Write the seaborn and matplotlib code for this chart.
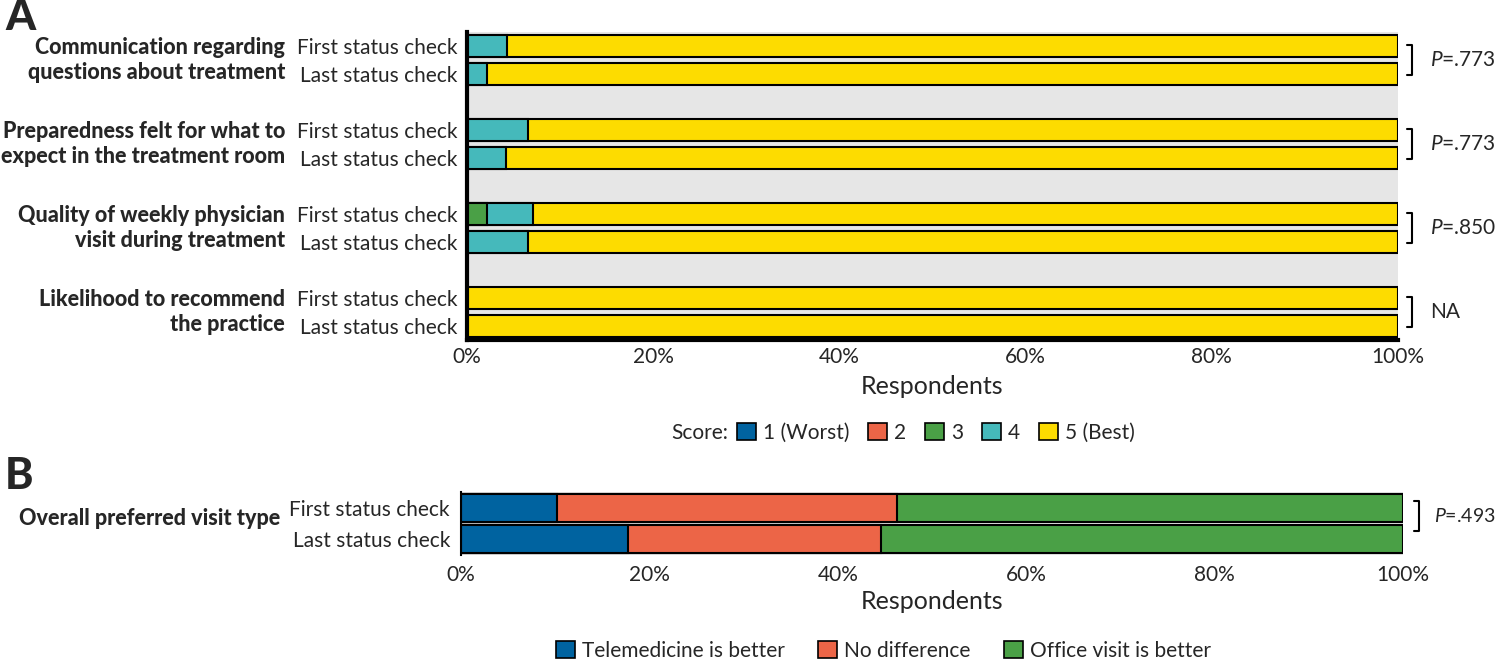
import numpy as np
import pandas as pd
import seaborn as sns
import matplotlib.pyplot as plt
from matplotlib.patches import Patch
from matplotlib.transforms import blended_transform_factory as btf
from matplotlib.ticker import FuncFormatter

# ---------------- data ----------------
questions = ["Communication regarding\nquestions about treatment",
             "Preparedness felt for what to\nexpect in the treatment room",
             "Quality of weekly physician\nvisit during treatment",
             "Likelihood to recommend\nthe practice"]
checks = ["First status check", "Last status check"]
p_values_a = ["$P$=.773", "$P$=.773", "$P$=.850", "NA"]

score_labels = ["1 (Worst)", "2", "3", "4", "5 (Best)"]
score_colors = ["#0063a0", "#ec6547", "#4aa046", "#45b9bb", "#fddc00"]
# rows: Q1 first, Q1 last, Q2 first, Q2 last, Q3 first, Q3 last, Q4 first, Q4 last
score1 = [0, 0, 0, 0, 0, 0, 0, 0]
score2 = [0, 0, 0, 0, 0, 0, 0, 0]
score3 = [0, 0, 0, 0, 2.2, 0, 0, 0]
score4 = [4.3, 2.1, 6.5, 4.2, 4.9, 6.6, 0, 0]
score5 = [95.7, 97.9, 93.5, 95.8, 92.9, 93.4, 100, 100]

question_b = "Overall preferred visit type"
visit_labels = ["Telemedicine is better", "No difference", "Office visit is better"]
visit_colors = ["#0063a0", "#ec6547", "#4aa046"]
tele = [10.2, 17.7]
nodiff = [36.1, 26.9]
office = [53.7, 55.4]
p_value_b = "$P$=.493"

xticks = [0, 20, 40, 60, 80, 100]

# ---------------- style ----------------
sns.set_style("white")
plt.rcParams['font.family'] = ['Lato', 'DejaVu Sans']
plt.rcParams['mathtext.fontset'] = 'custom'
plt.rcParams['mathtext.it'] = 'Lato:italic'
plt.rcParams['mathtext.rm'] = 'Lato'
FS = 15
FSB = 15.5
GREY = "#e6e6e6"

fig = plt.figure(figsize=(15, 6.63), dpi=100)
W, H = 1500, 663

def ax_rect(x0, y0, x1, y1):
    return [x0 / W, 1 - y1 / H, (x1 - x0) / W, (y1 - y0) / H]

# ---------------- panel A ----------------
axA = fig.add_axes(ax_rect(467, 32, 1398, 340))
axA.set_facecolor(GREY)

row_ids, order = [], []
for qi in range(len(questions)):
    for ci in range(len(checks)):
        row_ids.append(f"q{qi}_{ci}")
        order.append(f"q{qi}_{ci}")
    if qi < len(questions) - 1:
        order.append(f"gap{qi}")

dfA = pd.DataFrame({"row": row_ids, "s1": score1, "s2": score2, "s3": score3,
                    "s4": score4, "s5": score5})
scols = ["s1", "s2", "s3", "s4", "s5"]
for k in range(4, -1, -1):
    dfA["cum"] = dfA[scols[:k + 1]].sum(axis=1)
    sns.barplot(data=dfA, x="cum", y="row", order=order, orient="h",
                color=score_colors[k], saturation=1, edgecolor="black",
                linewidth=1.5, width=0.82, errorbar=None, ax=axA)

ypos = [order.index(r) for r in row_ids]
axA.set_yticks(ypos)
axA.set_yticklabels([checks[i % 2] for i in range(len(row_ids))], fontsize=FS)
axA.set_ylabel("")
axA.set_xlim(0, 100)
axA.set_ylim(len(order) - 0.5, -0.5)
axA.set_xticks(xticks)
axA.xaxis.set_major_formatter(FuncFormatter(lambda v, p: f"{v:.0f}%"))
axA.tick_params(axis="both", length=0, labelsize=FS)
axA.tick_params(axis="y", pad=7)
axA.tick_params(axis="x", pad=5)
axA.set_xlabel("Respondents", fontsize=18, labelpad=6)
for s in ["top", "right"]:
    axA.spines[s].set_visible(False)
for s in ["left", "bottom"]:
    axA.spines[s].set_linewidth(3)
    axA.spines[s].set_color("black")

trA_lab = btf(fig.transFigure, axA.transData)
trA_br = btf(axA.transAxes, axA.transData)
for qi, q in enumerate(questions):
    y0 = order.index(f"q{qi}_0")
    y1 = order.index(f"q{qi}_1")
    axA.text(285 / W, (y0 + y1) / 2, q, transform=trA_lab, ha="right", va="center",
             fontsize=FSB, fontweight="black", linespacing=1.22)
    xb0, xb1 = (1407 - 467) / 931, (1412 - 467) / 931
    axA.plot([xb0, xb1, xb1, xb0], [y0 - 0.05, y0 - 0.05, y1 + 0.05, y1 + 0.05],
             transform=trA_br, color="black", lw=1.5, clip_on=False)
    axA.text((1430 - 467) / 931, (y0 + y1) / 2, p_values_a[qi], transform=trA_br,
             ha="left", va="center", fontsize=FS)

fig.text(5 / W, 1 - 30 / H, "A", fontsize=31, fontweight="black", ha="left", va="baseline")

fig.text(671 / W, 1 - 433 / H, "Score:", fontsize=FS, ha="left", va="center")
hA = [Patch(facecolor=c, edgecolor="black", lw=1.2) for c in score_colors]
fig.legend(handles=hA, labels=score_labels, ncol=5, loc="center left",
           bbox_to_anchor=(737 / W, 1 - 433 / H), frameon=False, fontsize=FS,
           handlelength=0.9, handleheight=0.9, handletextpad=0.35,
           columnspacing=0.9, borderpad=0, borderaxespad=0)

# ---------------- panel B ----------------
axB = fig.add_axes(ax_rect(461, 492, 1403, 555))
axB.set_facecolor(GREY)
dfB = pd.DataFrame({"row": checks, "t": tele, "n": nodiff, "o": office})
bcols = ["t", "n", "o"]
for k in range(2, -1, -1):
    dfB["cum"] = dfB[bcols[:k + 1]].sum(axis=1)
    sns.barplot(data=dfB, x="cum", y="row", order=checks, orient="h",
                color=visit_colors[k], saturation=1, edgecolor="black",
                linewidth=1.5, width=0.9, errorbar=None, ax=axB)
axB.set_ylabel("")
axB.set_xlim(0, 100)
axB.set_ylim(1.5, -0.5)
axB.set_xticks(xticks)
axB.xaxis.set_major_formatter(FuncFormatter(lambda v, p: f"{v:.0f}%"))
axB.tick_params(axis="both", length=0, labelsize=FS)
axB.tick_params(axis="y", pad=8)
axB.tick_params(axis="x", pad=7)
axB.set_xlabel("Respondents", fontsize=18, labelpad=4)
for s in ["top", "right", "bottom"]:
    axB.spines[s].set_visible(False)
axB.spines["left"].set_linewidth(1.5)
axB.spines["left"].set_color("black")

trB_lab = btf(fig.transFigure, axB.transData)
trB_br = btf(axB.transAxes, axB.transData)
axB.text(280 / W, 0.35, question_b, transform=trB_lab, ha="right", va="center",
         fontsize=FSB, fontweight="black")
xb0, xb1 = (1414 - 461) / 942, (1419 - 461) / 942
axB.plot([xb0, xb1, xb1, xb0], [-0.2, -0.2, 0.75, 0.75], transform=trB_br,
         color="black", lw=1.5, clip_on=False)
axB.text((1434 - 461) / 942, 0.25, p_value_b, transform=trB_br, ha="left",
         va="center", fontsize=14)

fig.text(5 / W, 1 - 489 / H, "B", fontsize=31, fontweight="black", ha="left", va="baseline")

hB = [Patch(facecolor=c, edgecolor="black", lw=1.2) for c in visit_colors]
fig.legend(handles=hB, labels=visit_labels, ncol=3, loc="center left",
           bbox_to_anchor=(556 / W, 1 - 651 / H), frameon=False, fontsize=FS,
           handlelength=0.9, handleheight=0.9, handletextpad=0.35,
           columnspacing=1.6, borderpad=0, borderaxespad=0)

fig.savefig("out.png", dpi=100)
